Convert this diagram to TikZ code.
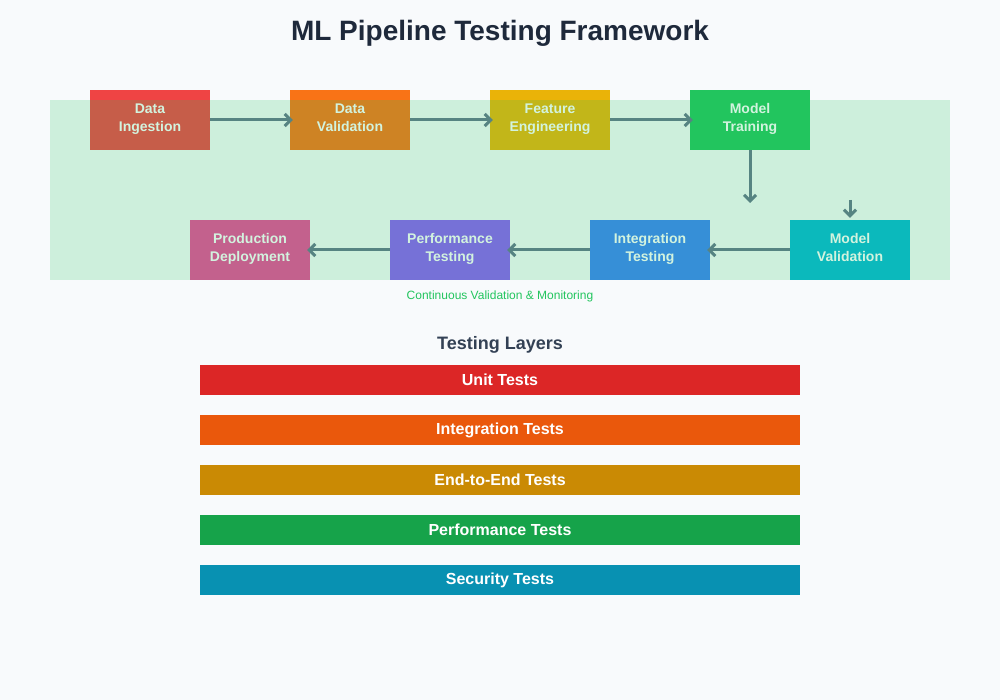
\documentclass[tikz,border=0pt]{standalone}
\usepackage{fontspec}
\setmainfont{Liberation Sans}
\usetikzlibrary{arrows.meta,positioning}
\definecolor{pagebg}{HTML}{F8FAFC}
\definecolor{titleink}{HTML}{1E293B}
\definecolor{subink}{HTML}{334155}
\definecolor{flowgray}{HTML}{64748B}
\definecolor{bandgreen}{HTML}{22C55E}
\definecolor{cIngest}{HTML}{EF4444}
\definecolor{cValid}{HTML}{F97316}
\definecolor{cFeat}{HTML}{EAB308}
\definecolor{cTrain}{HTML}{22C55E}
\definecolor{cMval}{HTML}{06B6D4}
\definecolor{cInteg}{HTML}{3B82F6}
\definecolor{cPerf}{HTML}{8B5CF6}
\definecolor{cProd}{HTML}{EC4899}
\definecolor{lUnit}{HTML}{DC2626}
\definecolor{lInteg}{HTML}{EA580C}
\definecolor{lEnd}{HTML}{CA8A04}
\definecolor{lPerf}{HTML}{16A34A}
\definecolor{lSec}{HTML}{0891B2}

\begin{document}
\begin{tikzpicture}[x=1pt,y=-1pt,
    stage/.style={minimum width=120pt,minimum height=60pt,inner sep=0pt,text=white,align=center,
      font=\bfseries\fontsize{14}{18}\selectfont,execute at begin node={\rule{0pt}{16.6pt}},
      execute at end node=\strut},
    flow/.style={draw=flowgray,line width=3pt,-{Straight Barb[length=6pt,width=12pt]}},
    layer/.style={minimum width=600pt,minimum height=30pt,inner sep=0pt,text=white,
      font=\bfseries\fontsize{16}{19}\selectfont}]
    \fill[pagebg] (0,0) rectangle (1000,700);
    \node[font=\bfseries\fontsize{28}{34}\selectfont,text=titleink] (title) at (500,33) {ML Pipeline Testing Framework};

    \node[stage,fill=cIngest] (ingest) at (150,120) {Data\\Ingestion};
    \node[stage,fill=cValid] (dval) at (350,120) {Data\\Validation};
    \node[stage,fill=cFeat] (feat) at (550,120) {Feature\\Engineering};
    \node[stage,fill=cTrain] (train) at (750,120) {Model\\Training};
    \node[stage,fill=cProd] (prod) at (250,250) {Production\\Deployment};
    \node[stage,fill=cPerf] (perf) at (450,250) {Performance\\Testing};
    \node[stage,fill=cInteg] (integ) at (650,250) {Integration\\Testing};
    \node[stage,fill=cMval] (mval) at (850,250) {Model\\Validation};
    \coordinate (trainend) at (750,203);
    \coordinate (mvalstart) at (850,200);

    \draw[flow] (ingest.east) -- ([xshift=3pt]dval.west);
    \draw[flow] (dval.east) -- ([xshift=3pt]feat.west);
    \draw[flow] (feat.east) -- ([xshift=3pt]train.west);
    \draw[flow] (train.south) -- (trainend);
    \draw[flow] (mvalstart) -- ([yshift=2pt]mval.north);
    \draw[flow] (mval.west) -- ([xshift=-3pt]integ.east);
    \draw[flow] (integ.west) -- ([xshift=-3pt]perf.east);
    \draw[flow] (perf.west) -- ([xshift=-3pt]prod.east);

    \fill[bandgreen,fill opacity=0.2] (50,100) rectangle (950,280);
    \node[text=bandgreen,font=\fontsize{12}{14}\selectfont] (caption) at (500,296) {Continuous Validation \& Monitoring};

    \node[font=\bfseries\fontsize{18}{22}\selectfont,text=subink] (layers) at (500,345) {Testing Layers};
    \node[layer,fill=lUnit] (unit) at (500,380) {Unit Tests};
    \node[layer,fill=lInteg] (itest) at (500,430) {Integration Tests};
    \node[layer,fill=lEnd] (e2e) at (500,480) {End-to-End Tests};
    \node[layer,fill=lPerf] (ptest) at (500,530) {Performance Tests};
    \node[layer,fill=lSec] (sec) at (500,580) {Security Tests};
\end{tikzpicture}
\end{document}
